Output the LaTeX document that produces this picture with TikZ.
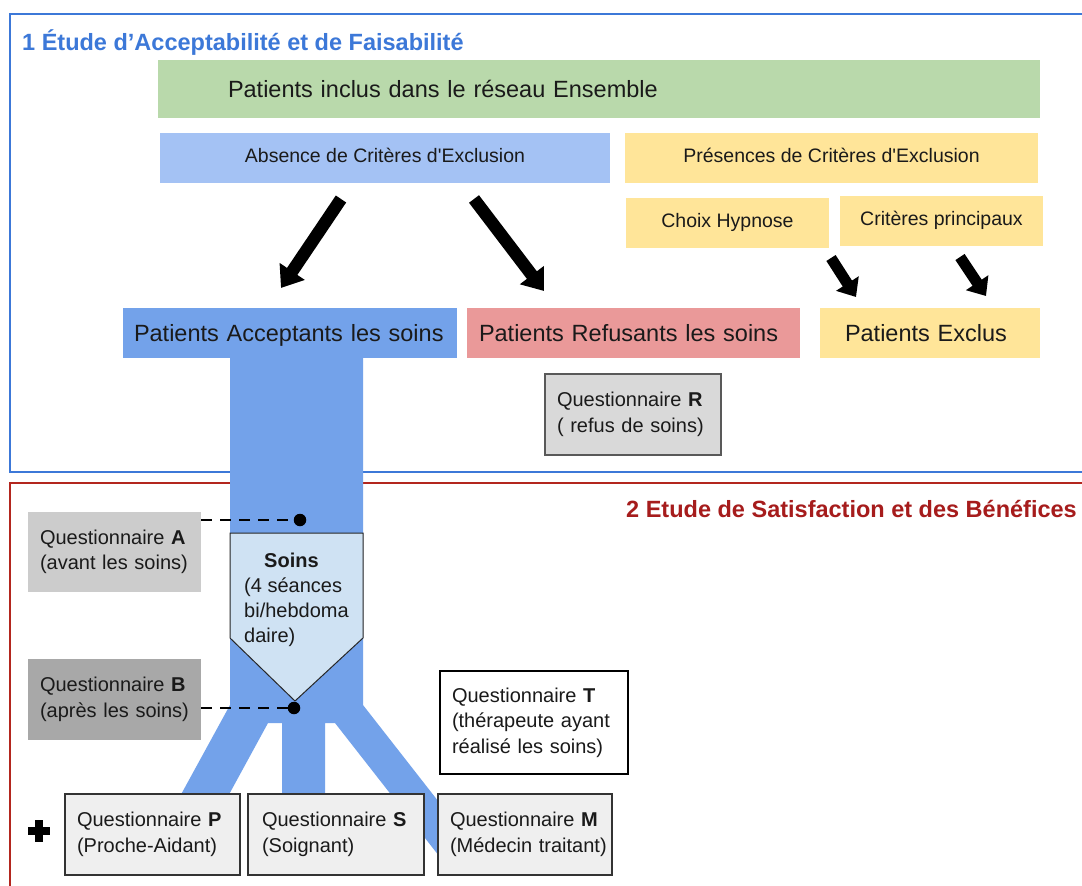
\documentclass[tikz,border=0pt]{standalone}
\usepackage{fontspec}
\setmainfont{Liberation Sans}[Ligatures=TeXOff]
\usetikzlibrary{arrows.meta}
\definecolor{frameblue}{HTML}{3C78D8}
\definecolor{framered}{HTML}{B3261E}
\definecolor{titlered}{HTML}{A61C1C}
\definecolor{greenbox}{HTML}{B9D9AB}
\definecolor{lightblue}{HTML}{A4C2F4}
\definecolor{yellowbox}{HTML}{FFE599}
\definecolor{midblue}{HTML}{73A2EA}
\definecolor{pinkbox}{HTML}{EA9999}
\definecolor{grayR}{HTML}{D9D9D9}
\definecolor{grayA}{HTML}{CCCCCC}
\definecolor{grayB}{HTML}{A8A8A8}
\definecolor{paleblue}{HTML}{CFE2F3}
\definecolor{qgray}{HTML}{EFEFEF}
\definecolor{textdark}{HTML}{1A1A1A}
\tikzset{
  big/.style={font=\fontsize{23.5}{28}\selectfont},
  mid/.style={font=\fontsize{19.5}{24}\selectfont},
  qfont/.style={font=\fontsize{20}{25.5}\selectfont},
  titlefont/.style={font=\bfseries\fontsize{23.5}{28}\selectfont},
  fillbox/.style={anchor=north west, inner sep=0pt, outer sep=0pt, text=textdark},
  midbox/.style={fillbox, mid, text height=14pt, text depth=5pt, minimum height=50pt},
  bigbox/.style={fillbox, big, text height=17pt, text depth=0pt, minimum height=50pt, align=left},
  qbox/.style={anchor=north west, outer sep=0pt, inner ysep=0pt, inner xsep=12pt, align=left, qfont, text=textdark},
  bigarrow/.style={line width=12.5pt, -{Triangle[length=20pt,width=29pt]}},
  smallarrow/.style={line width=11pt, -{Triangle[length=16pt,width=26pt]}},
  dashconn/.style={dash pattern=on 11pt off 8pt, line width=2.4pt},
  dotnode/.style={circle, fill=black, inner sep=0pt, minimum size=12.5pt},
}
\begin{document}
\begin{tikzpicture}[x=1pt,y=-1pt]
\useasboundingbox (0,0) rectangle (1082,886);
\fill[white] (0,0) rectangle (1082,886);
% frames
\begin{scope}
\clip (0,0) rectangle (1082,886);
\draw[frameblue,line width=2pt] (1095,14) -- (10,14) -- (10,472) -- (1095,472);
\draw[framered,line width=2pt] (1095,483) -- (10,483) -- (10,900);
\end{scope}
% titles
\node[anchor=base west, inner sep=0pt, titlefont, text=frameblue] (t1) at (22,50) {1 Étude d’Acceptabilité et de Faisabilité};
\node[anchor=base east, inner sep=0pt, titlefont, text=titlered] (t2) at (1077,517) {2 Etude de Satisfaction et des Bénéfices};
% top boxes
\node[bigbox, fill=greenbox, minimum width=882pt, minimum height=58pt, inner xsep=70pt, text width=742pt] (incl) at (158,60) {Patients inclus dans le réseau Ensemble};
\node[midbox, fill=lightblue, minimum width=450pt] (abs) at (160,133) {Absence de Critères d'Exclusion};
\node[midbox, fill=yellowbox, minimum width=413pt] (pres) at (625,133) {Présences de Critères d'Exclusion};
\node[midbox, fill=yellowbox, minimum width=203pt] (choix) at (626,198) {Choix Hypnose};
\node[midbox, fill=yellowbox, minimum width=203pt] (crit) at (840,196) {Critères principaux};
% trunk and branches
\fill[midblue] (230,358) -- (230,705) -- (178,800) -- (226,800) -- (268,723) -- (282,723) -- (282,800) -- (325,800) -- (325,723) -- (335,723) -- (450,870) -- (492,870) -- (363,705) -- (363,358) -- cycle;
% second row
\node[bigbox, fill=midblue, minimum width=334pt, inner xsep=11pt, text width=312pt] (acc) at (123,308) {Patients Acceptants les soins};
\node[bigbox, fill=pinkbox, minimum width=333pt, inner xsep=12pt, text width=309pt] (ref) at (467,308) {Patients Refusants les soins};
\node[bigbox, fill=yellowbox, minimum width=220pt, inner xsep=25pt, text width=170pt] (excl) at (820,308) {Patients Exclus};
% arrows
\coordinate (a1s) at (341,199);
\coordinate (a1e) at (281,288);
\coordinate (a2s) at (474,199);
\coordinate (a2e) at (544,291);
\coordinate (a3s) at (831,258);
\coordinate (a3e) at (856,297);
\coordinate (a4s) at (960,257);
\coordinate (a4e) at (986,296);
\draw[bigarrow] (a1s) -- (a1e);
\draw[bigarrow] (a2s) -- (a2e);
\draw[smallarrow] (a3s) -- (a3e);
\draw[smallarrow] (a4s) -- (a4e);
% questionnaire R
\node[qbox, fill=grayR, draw=black!65, line width=1.2pt, minimum width=176pt, minimum height=81pt, text width=152pt] (qr) at (545,374) {\mbox{Questionnaire \textbf{R}}\\\mbox{( refus de soins)}};
% soins pentagon
\draw[fill=paleblue, draw=black!85, line width=1pt] (230,533) -- (363,533) -- (363,638) -- (295,701) -- (230,638) -- cycle;
\node[anchor=north west, inner sep=0pt, align=left, font=\fontsize{20}{25}\selectfont, text=textdark] (soins) at (244,553) {\hspace*{20pt}\textbf{Soins}\\(4 séances\\bi/hebdoma\\daire)};
% questionnaires A and B
\node[qbox, fill=grayA, minimum width=173pt, minimum height=80pt, text width=149pt] (qa) at (28,512) {\mbox{Questionnaire \textbf{A}}\\\mbox{(avant les soins)}};
\node[qbox, fill=grayB, minimum width=173pt, minimum height=81pt, text width=149pt] (qb) at (28,659) {\mbox{Questionnaire \textbf{B}}\\\mbox{(après les soins)}};
\node[dotnode] (dotA) at (300,520) {};
\node[dotnode] (dotB) at (294,708) {};
\draw[dashconn] (qa.east |- dotA) -- (dotA.west);
\draw[dashconn] (qb.east |- dotB) -- (dotB.west);
% questionnaire T
\node[qbox, fill=white, draw=black, line width=1.2pt, minimum width=188pt, minimum height=103pt, text width=164pt] (qt) at (440,671) {\mbox{Questionnaire \textbf{T}}\\\mbox{(thérapeute ayant}\\\mbox{réalisé les soins)}};
% bottom questionnaires
\node[qbox, fill=qgray, draw=black!80, line width=1.2pt, minimum width=175pt, minimum height=81pt, text width=151pt] (qp) at (65,794) {\mbox{Questionnaire \textbf{P}}\\\mbox{(Proche-Aidant)}};
\node[qbox, fill=qgray, draw=black!80, line width=1.2pt, inner xsep=14pt, minimum width=176pt, minimum height=81pt, text width=148pt] (qs) at (248,794) {\mbox{Questionnaire \textbf{S}}\\\mbox{(Soignant)}};
\node[qbox, fill=qgray, draw=black!80, line width=1.2pt, minimum width=174pt, minimum height=81pt, text width=150pt] (qm) at (438,794) {\mbox{Questionnaire \textbf{M}}\\\mbox{(Médecin traitant)}};
% plus sign
\fill[black] (28,827) rectangle (50,835);
\fill[black] (35,820) rectangle (43,842);
\end{tikzpicture}
\end{document}
